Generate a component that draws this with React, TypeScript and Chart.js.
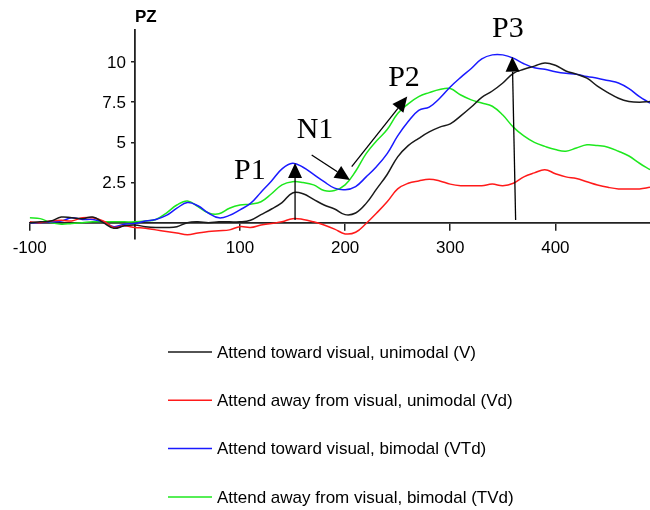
import { useEffect, useRef } from "react";
import { Chart, registerables } from "chart.js";

Chart.register(...registerables);

// Time after stimulus onset (ms)
const times = [
  -100, -90, -80, -70, -60, -50, -40, -30, -20, -10,
  0, 10, 20, 30, 40, 50, 60, 70, 80, 90,
  100, 110, 120, 130, 140, 150, 160, 170, 180, 190,
  200, 210, 220, 230, 240, 250, 260, 270, 280, 290,
  300, 310, 320, 330, 340, 350, 360, 370, 380, 390,
  400, 410, 420, 430, 440, 450, 460, 470, 480, 490,
];

// Amplitude at PZ (µV) per condition
const towardUnimodal = [
  0.0, 0.05, 0.1, 0.35, 0.3, 0.25, 0.35, 0.0, -0.35, -0.2,
  -0.15, -0.25, -0.3, -0.3, -0.25, 0.0, 0.05, 0.0, 0.05, 0.05,
  0.05, 0.15, 0.5, 0.85, 1.25, 1.85, 1.8, 1.45, 1.1, 0.85,
  0.5, 0.6, 1.2, 2.1, 3.0, 4.1, 4.8, 5.25, 5.65, 5.95,
  6.15, 6.65, 7.2, 7.8, 8.2, 8.7, 9.3, 9.55, 9.75, 9.95,
  9.8, 9.45, 9.25, 9.0, 8.5, 8.1, 7.75, 7.55, 7.5, 7.55,
];

const awayUnimodal = [
  0.05, 0.0, 0.1, 0.15, 0.1, 0.3, 0.3, 0.1, -0.3, -0.2,
  -0.3, -0.35, -0.45, -0.55, -0.65, -0.75, -0.65, -0.55, -0.5, -0.45,
  -0.25, -0.3, -0.15, -0.05, 0.05, 0.25, 0.2, 0.05, -0.15, -0.4,
  -0.7, -0.6, -0.05, 0.6, 1.3, 2.1, 2.45, 2.6, 2.7, 2.6,
  2.4, 2.3, 2.3, 2.3, 2.4, 2.3, 2.45, 2.85, 3.1, 3.3,
  3.05, 2.85, 2.75, 2.55, 2.35, 2.2, 2.1, 2.1, 2.1, 2.2,
];

const towardBimodal = [
  0.0, 0.0, 0.05, 0.1, 0.3, 0.2, 0.2, 0.05, -0.25, -0.1,
  -0.05, 0.1, 0.2, 0.45, 0.9, 1.25, 1.05, 0.6, 0.3, 0.45,
  0.8, 1.2, 1.9, 2.6, 3.35, 3.7, 3.45, 3.0, 2.55, 2.15,
  2.05, 2.25, 2.85, 3.5, 4.3, 5.4, 6.3, 7.0, 7.2, 7.75,
  8.45, 9.05, 9.6, 10.2, 10.45, 10.45, 10.25, 9.9, 9.65, 9.55,
  9.4, 9.3, 9.25, 9.1, 9.0, 8.85, 8.7, 8.35, 7.85, 7.45,
];

const awayBimodal = [
  0.3, 0.25, 0.0, -0.1, -0.05, 0.0, 0.05, 0.05, 0.05, 0.05,
  0.05, 0.1, 0.2, 0.6, 1.1, 1.35, 1.0, 0.6, 0.55, 0.9,
  1.1, 1.15, 1.3, 1.8, 2.35, 2.55, 2.5, 2.35, 2.0, 2.0,
  2.35, 3.2, 4.3, 5.1, 5.8, 6.8, 7.4, 7.85, 8.1, 8.3,
  8.35, 7.95, 7.65, 7.45, 7.25, 6.7, 5.95, 5.4, 5.0, 4.75,
  4.55, 4.45, 4.65, 4.85, 4.8, 4.7, 4.45, 4.15, 3.7, 3.3,
];

const seriesLabels = [
  "Attend toward visual, unimodal (V)",
  "Attend away from visual, unimodal (Vd)",
  "Attend toward visual, bimodal (VTd)",
  "Attend away from visual, bimodal (TVd)",
];
const seriesColors = ["#1a1a1a", "#ff1a1a", "#1a1aff", "#1ee81e"];

const xTickValues = [-100, 100, 200, 300, 400];
const yTickValues = [2.5, 5, 7.5, 10];

// Component names and where they sit (ms, µV)
const componentLabels = [
  { text: "P1", t: 109.5, v: 3.22 },
  { text: "N1", t: 171.4, v: 5.77 },
  { text: "P2", t: 256, v: 9.01 },
  { text: "P3", t: 354.9, v: 12.07 },
];

// Arrows pointing at the components: tail -> head (ms, µV)
const componentArrows = [
  { t0: 152.4, v0: 0.17, t1: 152.4, v1: 3.72 },
  { t0: 168.2, v0: 4.21, t1: 204.6, v1: 2.66 },
  { t0: 206.3, v0: 3.49, t1: 259.1, v1: 7.85 },
  { t0: 362.2, v0: 0.17, t1: 359.0, v1: 10.34 },
];

const SANS = "'Liberation Sans', Arial, Helvetica, sans-serif";
const SERIF = "'Liberation Serif', 'Times New Roman', serif";

const overlayPlugin = {
  id: "erpOverlay",
  afterDraw(chart: any) {
    const ctx: CanvasRenderingContext2D = chart.ctx;
    const xs = chart.scales.x;
    const ys = chart.scales.y;
    const axisX = xs.getPixelForValue(0);
    ctx.save();

    // amplitude labels to the left of the vertical axis
    ctx.fillStyle = "#000";
    ctx.font = `17px ${SANS}`;
    ctx.textAlign = "right";
    ctx.textBaseline = "middle";
    for (const v of ys.ticks) {
      ctx.fillText(String(v.value), axisX - 9, ys.getPixelForValue(v.value) + 1);
    }

    // channel name above the vertical axis
    ctx.font = `bold 17px ${SANS}`;
    ctx.textAlign = "center";
    ctx.fillText("PZ", axisX + 11, chart.chartArea.top - 13);

    // arrows
    ctx.strokeStyle = "#000";
    ctx.fillStyle = "#000";
    ctx.lineWidth = 1.3;
    for (const a of componentArrows) {
      const x0 = xs.getPixelForValue(a.t0);
      const y0 = ys.getPixelForValue(a.v0);
      const x1 = xs.getPixelForValue(a.t1);
      const y1 = ys.getPixelForValue(a.v1);
      const ang = Math.atan2(y1 - y0, x1 - x0);
      const headLen = 15;
      const headHalf = 7;
      const bx = x1 - headLen * Math.cos(ang);
      const by = y1 - headLen * Math.sin(ang);
      ctx.beginPath();
      ctx.moveTo(x0, y0);
      ctx.lineTo(bx, by);
      ctx.stroke();
      ctx.beginPath();
      ctx.moveTo(x1, y1);
      ctx.lineTo(bx + headHalf * Math.sin(ang), by - headHalf * Math.cos(ang));
      ctx.lineTo(bx - headHalf * Math.sin(ang), by + headHalf * Math.cos(ang));
      ctx.closePath();
      ctx.fill();
    }

    // component names
    ctx.font = `30px ${SERIF}`;
    ctx.textAlign = "center";
    ctx.textBaseline = "middle";
    for (const l of componentLabels) {
      ctx.fillText(l.text, xs.getPixelForValue(l.t), ys.getPixelForValue(l.v));
    }

    // legend, one entry per row
    ctx.font = `17px ${SANS}`;
    ctx.textAlign = "left";
    ctx.textBaseline = "middle";
    chart.data.datasets.forEach((ds: any, i: number) => {
      const y = 352 + i * 48.3;
      ctx.strokeStyle = ds.borderColor;
      ctx.lineWidth = 1.5;
      ctx.beginPath();
      ctx.moveTo(168, y);
      ctx.lineTo(212, y);
      ctx.stroke();
      ctx.fillStyle = "#000";
      ctx.fillText(ds.label, 217, y + 1);
    });

    ctx.restore();
  },
};

export default function App() {
  const canvasRef = useRef<HTMLCanvasElement | null>(null);

  useEffect(() => {
    if (!canvasRef.current) return;
    const series = [towardUnimodal, awayUnimodal, towardBimodal, awayBimodal];
    const chart = new Chart(canvasRef.current, {
      type: "line",
      data: {
        datasets: series.map((vals, i) => ({
          label: seriesLabels[i],
          data: vals.map((v, j) => ({ x: times[j], y: v })),
          borderColor: seriesColors[i],
          backgroundColor: seriesColors[i],
          borderWidth: 1.5,
          pointRadius: 0,
          tension: 0.4,
          fill: false,
        })),
      },
      options: {
        responsive: false,
        animation: false,
        devicePixelRatio: 1,
        layout: { padding: { left: 29.7, right: 0, top: 30, bottom: 271.3 } },
        plugins: {
          legend: { display: false },
          tooltip: { enabled: false },
          title: { display: false },
        },
        scales: {
          x: {
            type: "linear",
            min: -100,
            max: 490,
            position: { y: 0 } as any,
            afterBuildTicks: (scale: any) => {
              scale.ticks = xTickValues.map((v) => ({ value: v }));
            },
            grid: {
              display: true,
              drawOnChartArea: false,
              drawTicks: true,
              tickLength: 7,
              color: "#222",
              lineWidth: 1.5,
            },
            border: { display: true, color: "#222", width: 1.8 },
            ticks: {
              color: "#000",
              font: { family: SANS, size: 17 },
              padding: 8,
              maxRotation: 0,
              autoSkip: false,
            },
          },
          y: {
            type: "linear",
            min: -1,
            max: 12,
            position: { x: 0 } as any,
            afterBuildTicks: (scale: any) => {
              scale.ticks = yTickValues.map((v) => ({ value: v }));
            },
            grid: {
              display: true,
              drawOnChartArea: false,
              drawTicks: true,
              tickLength: 3,
              color: "#222",
              lineWidth: 1.5,
            },
            border: { display: true, color: "#222", width: 1.8 },
            ticks: { display: false },
          },
        },
      },
      plugins: [overlayPlugin],
    });
    return () => chart.destroy();
  }, []);

  return (
    <div style={{ position: "absolute", left: 0, top: 0, width: 650, height: 510, background: "#fff" }}>
      <canvas ref={canvasRef} width={650} height={510} style={{ display: "block" }} />
    </div>
  );
}
